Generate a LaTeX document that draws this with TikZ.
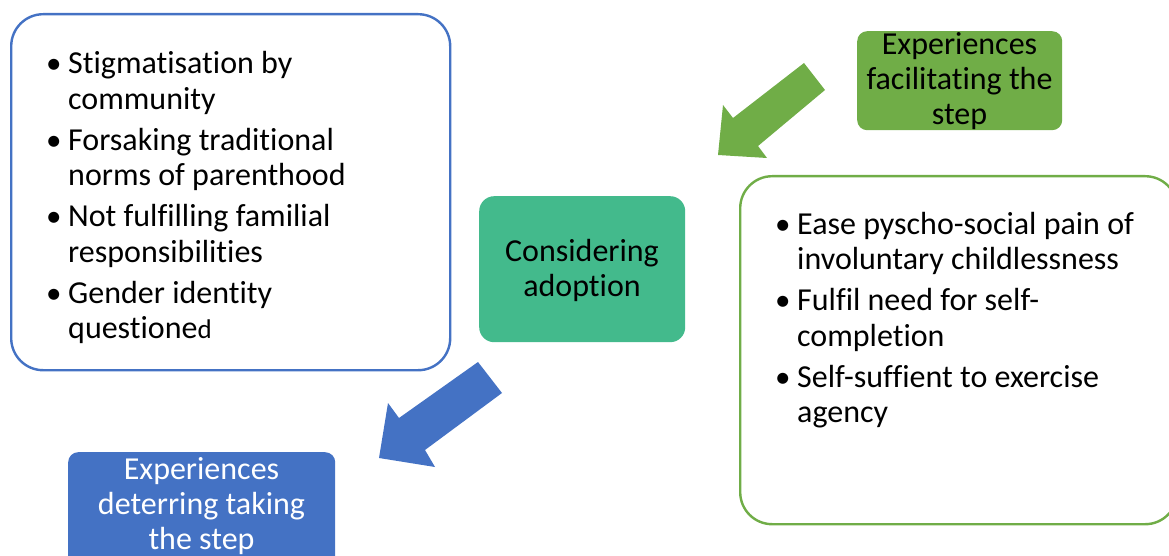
\documentclass[tikz,border=0pt]{standalone}
\usepackage{fontspec}
\setmainfont{Carlito}[Ligatures=NoCommon]
\definecolor{accblue}{HTML}{4472C4}
\definecolor{accgreen}{HTML}{70AD47}
\definecolor{adoptgreen}{RGB}{67,186,140}
\newcommand{\bitem}[1]{\makebox[22pt][l]{\fontsize{31}{35.5}\selectfont\textbullet} & #1}
\begin{document}
\begin{tikzpicture}[x=1pt,y=-1pt,
  panel/.style={draw, line width=2.4pt, fill=white, rounded corners=32pt, anchor=north west, inner sep=0pt},
  tag/.style={rounded corners=10pt, anchor=north west, inner sep=0pt},
  listtext/.style={inner sep=0pt, anchor=base west, font=\fontsize{32}{35.5}\selectfont},
  centertext/.style={inner sep=0pt, anchor=base, font=\fontsize{32}{35}\selectfont}]
\useasboundingbox (0,0) rectangle (1169,556);

% outlined panels with bullet lists
\node[panel, draw=accblue, minimum width=439pt, minimum height=356pt] (deter) at (10,13) {};
\node[panel, draw=accgreen, minimum width=437pt, minimum height=348pt] (facil) at (739,175) {};

% filled tags
\node[tag, fill=adoptgreen, rounded corners=15pt, minimum width=206pt, minimum height=146pt] (adopt) at (479,196) {};
\node[tag, fill=accgreen, minimum width=205pt, minimum height=99pt] (facilhead) at (857,31) {};
\node[tag, fill=accblue, minimum width=267pt, minimum height=130pt] (deterhead) at (68,452) {};

% tag texts
\node[centertext] (adopttext) at (582,261)
  {\begin{tabular}[t]{@{}c@{}}Considering\\ adoption\end{tabular}};
\node[centertext] (facilheadtext) at (959.5,55)
  {\begin{tabular}[t]{@{}c@{}}Experiences\\ facilitating the\\ step\end{tabular}};
\node[centertext, text=white] (deterheadtext) at (201.5,479)
  {\begin{tabular}[t]{@{}c@{}}Experiences\\ deterring taking\\ the step\end{tabular}};

% bullet lists
\node[listtext] (deterlist) at (46,74) {\begin{tabular}[t]{@{}l@{}l@{}}
  \bitem{Stigmatisation by}\\
  & community\\[5.5pt]
  \bitem{Forsaking traditional}\\
  & norms of parenthood\\[5.5pt]
  \bitem{Not fulfilling familial}\\
  & responsibilities\\[5.5pt]
  \bitem{Gender identity}\\
  & questione{\fontsize{27}{35.5}\selectfont d}
\end{tabular}};
\node[listtext] (faciltlist) at (775,234) {\begin{tabular}[t]{@{}l@{}l@{}}
  \bitem{Ease pyscho-social pain of}\\
  & involuntary childlessness\\[5.5pt]
  \bitem{Fulfil need for self-}\\
  & completion\\[5.5pt]
  \bitem{Self-suffient to exercise}\\
  & agency
\end{tabular}};

% block arrows
\fill[accgreen] (804,63) -- (825,90) -- (758,146) -- (767,158) -- (718,155)
  -- (723,105) -- (733,118) -- cycle;
\fill[accblue] (478,362) -- (502,393) -- (425,450) -- (435,467) -- (379,458)
  -- (388,403) -- (399,418) -- cycle;
\end{tikzpicture}
\end{document}
